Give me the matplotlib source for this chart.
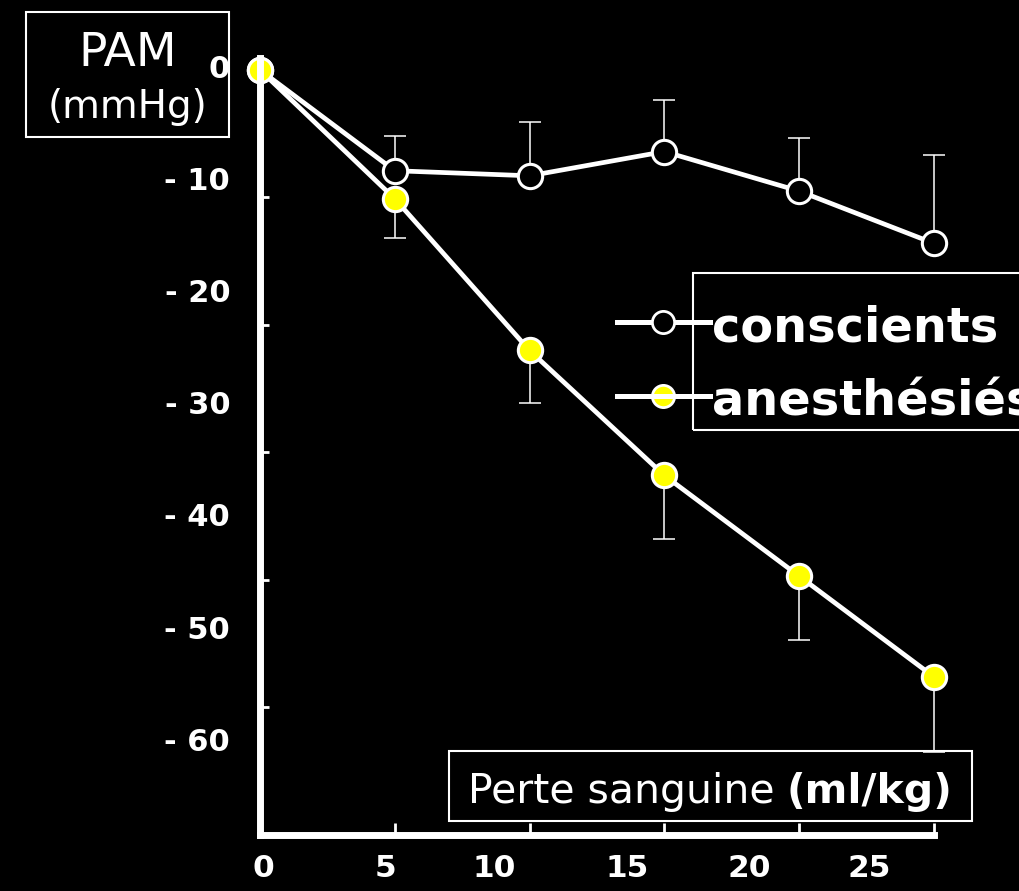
import matplotlib
matplotlib.use("Agg")
import matplotlib.pyplot as plt
from matplotlib.lines import Line2D
from matplotlib.patches import Rectangle
import numpy as np

# -----------------------------
# Data
# -----------------------------
perte = [0, 5, 10, 15, 20, 25]

conscients = [0, -7.9, -8.3, -6.4, -9.5, -13.6]
conscients_err = [0, 2.7, 4.2, 4.05, 4.2, 6.9]      # drawn upward only

anesthesies = [0, -10.1, -22.0, -31.8, -39.7, -47.6]
anesthesies_err = [0, 3.1, 4.1, 5.0, 5.0, 5.9]     # drawn downward only

x_ticklabels = ["0", "5", "10", "15", "20", "25"]
y_ticklabels = ["0", "- 10", "- 20", "- 30", "- 40", "- 50", "- 60"]
x_tickmarks = [5, 10, 15, 20, 25]
y_tickmarks = [-10, -20, -30, -40, -50]

# the slide's labels do not sit on the tick marks
x_label_pos = [0.11, 4.64, 8.68, 13.61, 18.14, 22.59]
y_label_pos = [0.3, -8.5, -17.3, -26.1, -34.9, -43.7, -52.5]

W, H = 1020, 891
YELLOW = "#FFFF00"


def fx(px):
    return px / W


def fy(py):
    return 1 - py / H


fig = plt.figure(figsize=(W / 100, H / 100), dpi=100, facecolor="black")
ax = fig.add_axes([fx(260), fy(835), fx(934) - fx(260), fy(58.5) - fy(835)])
ax.set_facecolor("black")

ax.set_xlim(0, 25)
ax.set_ylim(-60, 0.9)

# -----------------------------
# Error bars, lines, markers
# -----------------------------
zeros = np.zeros(len(perte))
ax.errorbar(perte, conscients, yerr=[zeros, conscients_err], fmt="none",
            ecolor="white", elinewidth=1.1, capsize=8, capthick=1.1,
            zorder=1, clip_on=False)
ax.errorbar(perte, anesthesies, yerr=[anesthesies_err, zeros], fmt="none",
            ecolor="white", elinewidth=1.1, capsize=8, capthick=1.1,
            zorder=1, clip_on=False)

ax.plot(perte, conscients, color="white", lw=3.4, zorder=2, clip_on=False)
ax.plot(perte, anesthesies, color="white", lw=3.4, zorder=2, clip_on=False)

ax.plot(perte, conscients, ls="none", marker="o", ms=17.5, mfc="black",
        mec="white", mew=2.2, zorder=3, clip_on=False)
ax.plot(perte, anesthesies, ls="none", marker="o", ms=17.5, mfc=YELLOW,
        mec="white", mew=2.2, zorder=4, clip_on=False)

# -----------------------------
# Axes styling
# -----------------------------
for side in ["top", "right"]:
    ax.spines[side].set_visible(False)
for side in ["left", "bottom"]:
    ax.spines[side].set_color("white")
    ax.spines[side].set_linewidth(5)
    ax.spines[side].set_zorder(5)

ax.set_xticks(x_label_pos, x_ticklabels)
ax.set_yticks(y_label_pos, y_ticklabels)
ax.set_xticks(x_tickmarks, minor=True)
ax.set_yticks(y_tickmarks, minor=True)

ax.tick_params(axis="x", which="major", length=0, pad=14, labelsize=22.5,
               labelcolor="white")
ax.tick_params(axis="y", which="major", length=0, pad=21.5, labelsize=22,
               labelcolor="white")
ax.tick_params(axis="x", which="minor", direction="in", length=8.5,
               width=2, color="white")
ax.tick_params(axis="y", which="minor", direction="in", length=6.5,
               width=2, color="white")
for lab in ax.get_xticklabels() + ax.get_yticklabels():
    lab.set_fontweight("bold")

# -----------------------------
# Boxed labels
# -----------------------------
fig.add_artist(Rectangle((fx(26), fy(137)), fx(229) - fx(26), fy(12) - fy(137),
                         transform=fig.transFigure, fill=False,
                         edgecolor="white", lw=1.5))
fig.text(fx(128), fy(53), "PAM", color="white", fontsize=34,
         ha="center", va="center")
fig.text(fx(128), fy(107), "(mmHg)", color="white", fontsize=28,
         ha="center", va="center")

fig.add_artist(Rectangle((fx(449), fy(821)), fx(972) - fx(449), fy(751) - fy(821),
                         transform=fig.transFigure, fill=False,
                         edgecolor="white", lw=1.5, zorder=6))
t1 = fig.text(fx(468), fy(803), "Perte sanguine", color="white",
              fontsize=29.5, ha="left", va="baseline")
ax.annotate("(ml/kg)", xy=(1, 0), xycoords=t1, xytext=(9, 0),
            textcoords="offset points", color="white", fontsize=29.5,
            fontweight="bold", ha="left", va="bottom",
            annotation_clip=False)

# -----------------------------
# Legend (drawn by hand, sample lines stick out of the box)
# -----------------------------
fig.add_artist(Rectangle((fx(693), fy(430)), fx(1030) - fx(693), fy(273) - fy(430),
                         transform=fig.transFigure, fill=False,
                         edgecolor="white", lw=1.5))

rows = [("conscients", 322, "black"), ("anesthésiés", 396, YELLOW)]
for name, py, face in rows:
    line = Line2D([fx(617), fx(710)], [fy(py), fy(py)], color="white", lw=3.6,
                  transform=fig.transFigure,
                  zorder=3 if face == YELLOW else 1)
    mark = Line2D([fx(663)], [fy(py)], ls="none", marker="o", ms=16,
                  mfc=face, mec="white", mew=2, transform=fig.transFigure,
                  zorder=2)
    fig.add_artist(line)
    fig.add_artist(mark)
    fig.text(fx(712), fy(py + 20), name, color="white", fontsize=34.5,
             fontweight="bold", ha="left", va="baseline")

fig.savefig("out.png", dpi=100, facecolor="black")
